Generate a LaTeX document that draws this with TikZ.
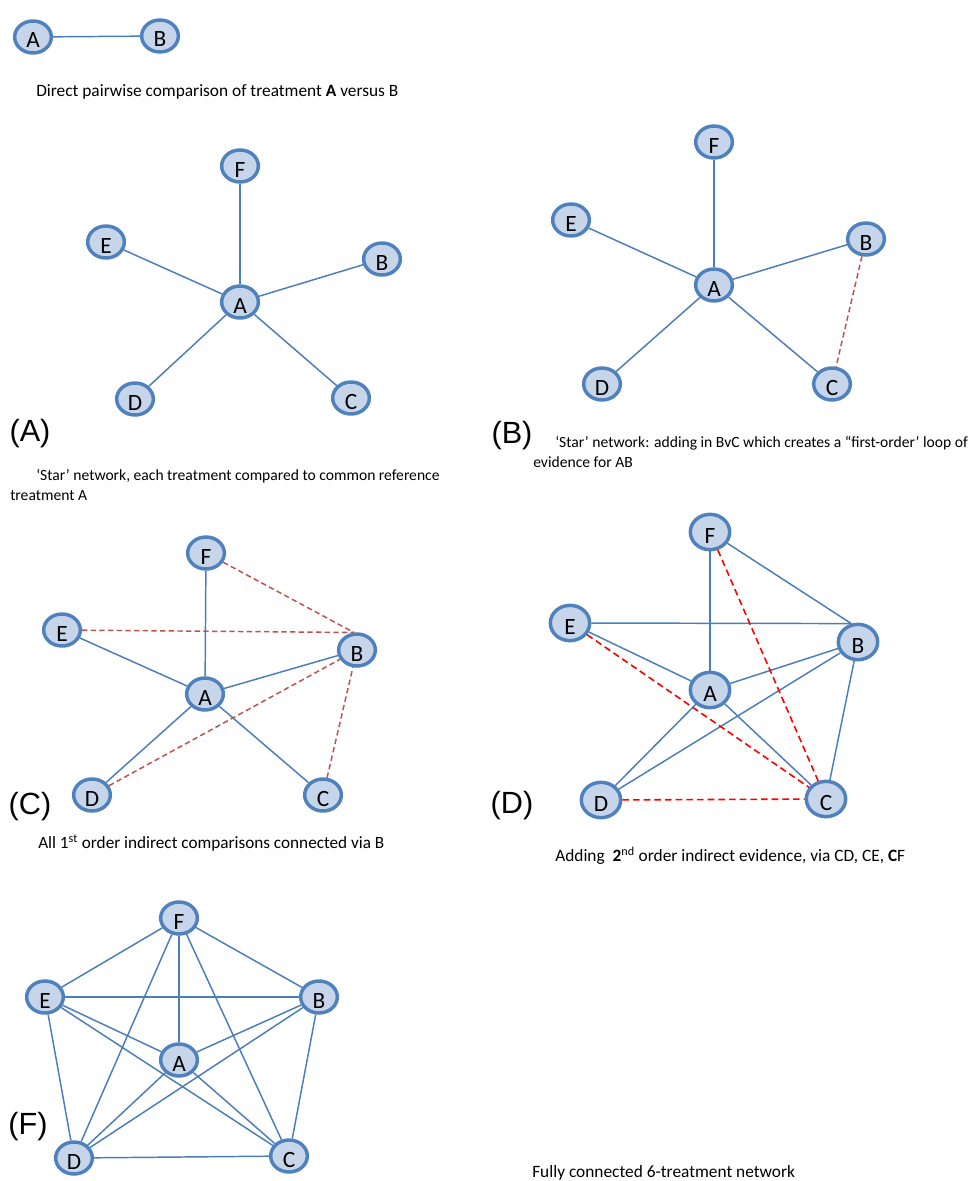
\documentclass[tikz,border=0pt]{standalone}
\usepackage{fontspec}
\setmainfont{Carlito}
\newfontfamily\arialf{Liberation Sans}
\usetikzlibrary{shapes.geometric}
\definecolor{nodeblue}{HTML}{4F81BD}
\definecolor{nodefill}{HTML}{C6D5EA}
\definecolor{edgeblue}{HTML}{4A7EBB}
\definecolor{dashred}{HTML}{C0504D}
\definecolor{purered}{HTML}{FF0000}
\begin{document}
\begin{tikzpicture}[x=0.75pt,y=-0.75pt,
 tn/.style={ellipse, draw=nodeblue, fill=nodefill, line width=2.6pt, minimum width=27.5pt, minimum height=24pt, inner sep=0pt, text height=16.5pt, text depth=0pt, font=\fontsize{17.5}{17.5}\selectfont},
 bign/.style={minimum width=29.5pt, minimum height=26.5pt},
 ed/.style={draw=edgeblue, line width=1.1pt},
 rd/.style={draw=dashred, line width=1.1pt, dash pattern=on 4pt off 2.5pt},
 rr/.style={draw=purered, line width=1.2pt, dash pattern=on 5pt off 3pt},
 captxt/.style={anchor=base west, inner sep=0pt},
 plab/.style={font=\arialf\fontsize{23}{23}\selectfont, inner sep=0pt}]
\useasboundingbox[fill=white] (0,0) rectangle (971,1181);

% ---------- top pair ----------
\node[tn] (pA) at (33,37) {A};
\node[tn] (pB) at (160,36) {B};
\draw[ed] (pA) -- (pB);
\node[captxt, font=\fontsize{13}{15}\selectfont] (cap1) at (36,97) {Direct pairwise comparison of treatment \textbf{A} versus B};

% ---------- panel A ----------
\node[tn] (aF) at (240,166) {F};
\node[tn] (aE) at (106,242) {E};
\node[tn] (aB) at (382,259) {B};
\node[tn] (aA) at (240,302) {A};
\node[tn] (aD) at (135,399) {D};
\node[tn] (aC) at (351,398) {C};
\foreach \n in {aF,aE,aB,aD,aC} \draw[ed] (aA) -- (\n);
\node[plab] (labA) at (30,434) {(A)};
\node[captxt, font=\fontsize{11.7}{14}\selectfont] (capA1) at (36,480) {‘Star’ network, each treatment compared to common reference};
\node[captxt, font=\fontsize{11.7}{14}\selectfont] (capA2) at (10,500) {treatment A};

% ---------- panel B ----------
\node[tn] (bF) at (714,142) {F};
\node[tn] (bE) at (571,220) {E};
\node[tn] (bB) at (866,239) {B};
\node[tn] (bA) at (714,285) {A};
\node[tn] (bD) at (602,384) {D};
\node[tn] (bC) at (832,384) {C};
\foreach \n in {bF,bE,bB,bD,bC} \draw[ed] (bA) -- (\n);
\draw[rd] (bB) -- (bC);
\node[plab] (labB) at (512,436) {(B)};
\node[captxt, font=\fontsize{11.7}{14}\selectfont] (capB1) at (555,447) {‘Star’ network: adding in BvC which creates a “first-order’ loop of};
\node[captxt, font=\fontsize{11.7}{14}\selectfont] (capB2) at (533,467) {evidence for AB};

% ---------- panel C ----------
\node[tn] (cF) at (206,553) {F};
\node[tn] (cE) at (62,630) {E};
\node[tn] (cB) at (357,650) {B};
\node[tn] (cA) at (205,694) {A};
\node[tn] (cD) at (92,795) {D};
\node[tn] (cC) at (323,795) {C};
\foreach \n in {cF,cE,cB,cD,cC} \draw[ed] (cA) -- (\n);
\draw[rd] (cF) -- (cB.100);
\draw[rd] (cE) -- (cB.100);
\draw[rd] (cD) -- (cB);
\draw[rd] (cC) -- (cB);
\node[plab] (labC) at (30,807) {(C)};
\node[captxt, font=\fontsize{12.9}{15}\selectfont] (capC) at (38,848) {All 1\textsuperscript{st} order indirect comparisons connected via B};

% ---------- panel D ----------
\node[tn,bign] (dF) at (710,532) {F};
\node[tn,bign] (dE) at (570,623) {E};
\node[tn,bign] (dB) at (858,642) {B};
\node[tn,bign] (dA) at (710,690) {A};
\node[tn,bign] (dD) at (601,800) {D};
\node[tn,bign] (dC) at (826,799) {C};
\foreach \n in {dF,dE,dB,dD,dC} \draw[ed] (dA) -- (\n);
\draw[ed] (dF) -- (dB.110);
\draw[ed] (dE) -- (dB.110);
\draw[ed] (dB) -- (dD);
\draw[ed] (dB) -- (dC);
\draw[rr] (dF) -- (dC);
\draw[rr] (dE) -- (dC);
\draw[rr] (dD) -- (dC);
\node[plab] (labD) at (512,806) {(D)};
\node[captxt, font=\fontsize{13}{15}\selectfont] (capD) at (555,861) {Adding\ \ \textbf{2}\textsuperscript{nd} order indirect evidence, via CD, CE, \textbf{C}F};

% ---------- panel F ----------
\node[tn] (fF) at (179,918) {F};
\node[tn] (fE) at (45,997) {E};
\node[tn] (fB) at (319,997) {B};
\node[tn] (fA) at (179,1060) {A};
\node[tn] (fD) at (74,1158) {D};
\node[tn] (fC) at (289,1156) {C};
\draw[ed] (fF) -- (fE);
\draw[ed] (fF) -- (fB);
\draw[ed] (fF) -- (fA);
\draw[ed] (fF) -- (fD);
\draw[ed] (fF) -- (fC);
\draw[ed] (fE) -- (fB);
\draw[ed] (fE) -- (fA);
\draw[ed] (fE) -- (fC);
\draw[ed] (fE) -- (fD);
\draw[ed] (fB) -- (fA);
\draw[ed] (fB) -- (fD);
\draw[ed] (fB) -- (fC);
\draw[ed] (fA) -- (fD);
\draw[ed] (fA) -- (fC);
\draw[ed] (fD) -- (fC);
\node[plab] (labF) at (28,1127) {(F)};
\node[captxt, font=\fontsize{13}{15}\selectfont] (capF) at (532,1177) {Fully connected 6-treatment network};
\end{tikzpicture}
\end{document}
